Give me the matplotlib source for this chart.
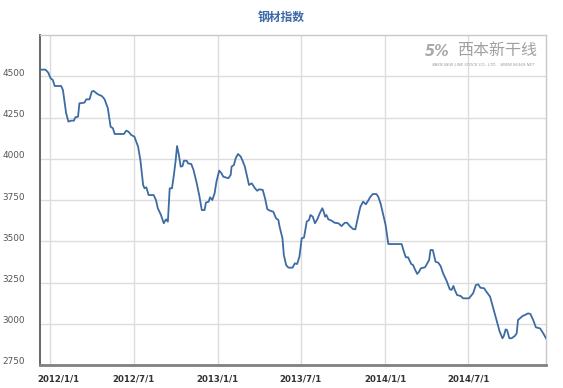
import matplotlib
matplotlib.use("Agg")
import matplotlib.pyplot as plt
import matplotlib.transforms as mtransforms
import datetime as dt

plt.rcParams['font.family'] = ['DejaVu Sans', 'Noto Sans CJK SC']

title = "钢材指数"

dates = [
    "2011-12-12", "2011-12-22", "2011-12-28", "2012-01-02", "2012-01-07", "2012-01-11",
    "2012-01-25", "2012-01-29", "2012-02-05", "2012-02-10", "2012-02-16", "2012-02-22",
    "2012-02-25", "2012-03-02", "2012-03-05", "2012-03-16", "2012-03-20", "2012-03-27",
    "2012-04-01", "2012-04-05", "2012-04-14", "2012-04-23", "2012-04-29", "2012-05-06",
    "2012-05-12", "2012-05-17", "2012-05-21", "2012-06-10", "2012-06-15", "2012-06-20",
    "2012-06-26", "2012-07-03", "2012-07-11", "2012-07-16", "2012-07-22", "2012-07-25",
    "2012-07-29", "2012-08-03", "2012-08-14", "2012-08-19", "2012-08-23", "2012-08-30",
    "2012-09-05", "2012-09-10", "2012-09-14", "2012-09-18", "2012-09-23", "2012-09-27",
    "2012-10-01", "2012-10-04", "2012-10-08", "2012-10-12", "2012-10-16", "2012-10-19",
    "2012-10-25", "2012-10-28", "2012-11-04", "2012-11-09", "2012-11-16", "2012-11-22",
    "2012-11-27", "2012-12-03", "2012-12-06", "2012-12-12", "2012-12-15", "2012-12-20",
    "2012-12-25", "2012-12-29", "2013-01-04", "2013-01-09", "2013-01-13", "2013-01-24",
    "2013-01-29", "2013-01-31", "2013-02-05", "2013-02-09", "2013-02-14", "2013-02-20",
    "2013-02-24", "2013-03-01", "2013-03-06", "2013-03-10", "2013-03-16", "2013-03-23",
    "2013-03-28", "2013-04-01", "2013-04-09", "2013-04-14", "2013-04-19", "2013-04-25",
    "2013-05-02", "2013-05-08", "2013-05-13", "2013-05-16", "2013-05-22", "2013-05-25",
    "2013-05-30", "2013-06-04", "2013-06-13", "2013-06-18", "2013-06-23", "2013-06-28",
    "2013-07-03", "2013-07-08", "2013-07-14", "2013-07-19", "2013-07-22", "2013-07-27",
    "2013-08-01", "2013-08-06", "2013-08-12", "2013-08-17", "2013-08-20", "2013-08-23",
    "2013-08-26", "2013-08-30", "2013-09-06", "2013-09-13", "2013-09-21", "2013-09-28",
    "2013-10-05", "2013-10-10", "2013-10-16", "2013-10-23", "2013-10-28", "2013-11-03",
    "2013-11-08", "2013-11-14", "2013-11-20", "2013-11-25", "2013-11-30", "2013-12-05",
    "2013-12-13", "2013-12-17", "2013-12-22", "2013-12-28", "2014-01-02", "2014-01-08",
    "2014-02-06", "2014-02-11", "2014-02-15", "2014-02-20", "2014-02-27", "2014-03-03",
    "2014-03-07", "2014-03-12", "2014-03-16", "2014-03-20", "2014-03-29", "2014-04-03",
    "2014-04-07", "2014-04-10", "2014-04-15", "2014-04-17", "2014-04-21", "2014-04-27",
    "2014-05-02", "2014-05-08", "2014-05-15", "2014-05-22", "2014-05-26", "2014-05-30",
    "2014-06-02", "2014-06-07", "2014-06-15", "2014-06-20", "2014-07-03", "2014-07-12",
    "2014-07-18", "2014-07-23", "2014-07-28", "2014-08-05", "2014-08-10", "2014-08-18",
    "2014-08-25", "2014-09-01", "2014-09-08", "2014-09-14", "2014-09-17", "2014-09-21",
    "2014-09-24", "2014-09-29", "2014-10-04", "2014-10-11", "2014-10-15", "2014-10-18",
    "2014-10-24", "2014-10-28", "2014-11-02", "2014-11-09", "2014-11-14", "2014-11-20",
    "2014-11-26", "2014-12-05", "2014-12-12", "2014-12-18",
]

values = [
    4540, 4540, 4522, 4488, 4477, 4441,
    4441, 4417, 4276, 4225, 4231, 4231,
    4251, 4255, 4336, 4340, 4360, 4360,
    4407, 4411, 4391, 4380, 4360, 4306,
    4194, 4185, 4150, 4150, 4170, 4164,
    4144, 4134, 4073, 3993, 3841, 3821,
    3827, 3780, 3780, 3750, 3700, 3659,
    3609, 3633, 3619, 3821, 3821, 3900,
    3990, 4077, 4023, 3952, 3956, 3988,
    3988, 3972, 3968, 3932, 3851, 3770,
    3689, 3689, 3734, 3740, 3766, 3750,
    3791, 3861, 3928, 3912, 3891, 3882,
    3902, 3952, 3962, 4003, 4029, 4013,
    3988, 3952, 3891, 3841, 3851, 3821,
    3806, 3815, 3811, 3760, 3694, 3685,
    3679, 3639, 3629, 3585, 3518, 3417,
    3356, 3340, 3340, 3366, 3362, 3406,
    3518, 3522, 3619, 3629, 3659, 3649,
    3609, 3633, 3673, 3700, 3679, 3649,
    3659, 3633, 3625, 3612, 3609, 3592,
    3612, 3612, 3592, 3574, 3572, 3649,
    3709, 3740, 3724, 3746, 3770, 3786,
    3786, 3770, 3730, 3659, 3599, 3483,
    3483, 3437, 3403, 3403, 3362, 3356,
    3330, 3302, 3315, 3336, 3342, 3366,
    3386, 3447, 3447, 3423, 3376, 3370,
    3350, 3302, 3261, 3209, 3205, 3229,
    3205, 3174, 3168, 3154, 3154, 3185,
    3235, 3239, 3218, 3215, 3194, 3164,
    3094, 3023, 2952, 2912, 2926, 2966,
    2962, 2912, 2912, 2926, 2942, 3023,
    3037, 3047, 3053, 3063, 3059, 3023,
    2978, 2972, 2942, 2912,
]

xtick_dates = ["2012-01-01", "2012-07-01", "2013-01-01", "2013-07-01", "2014-01-01", "2014-07-01"]
xtick_labels = ["2012/1/1", "2012/7/1", "2013/1/1", "2013/7/1", "2014/1/1", "2014/7/1"]
yticks = [2750, 3000, 3250, 3500, 3750, 4000, 4250, 4500]

W, H = 563, 388
fig = plt.figure(figsize=(W / 100, H / 100), dpi=100)
fig.patch.set_facecolor("white")
ax = fig.add_axes([40 / W, 1 - 365 / H, (546 - 40) / W, (365 - 35) / H])

x = [dt.datetime.strptime(d, "%Y-%m-%d") for d in dates]
ax.plot(x, values, color="#3d6ba3", lw=1.3, solid_joinstyle="round", zorder=3)

ax.set_xlim(dt.datetime(2011, 12, 10), dt.datetime(2014, 12, 18))
ax.set_ylim(2750, 4750)

ax.set_yticks(yticks)
ax.set_yticklabels([str(v) for v in yticks])
ax.set_xticks([dt.datetime.strptime(d, "%Y-%m-%d") for d in xtick_dates])
ax.set_xticklabels(xtick_labels)

ax.grid(True, color="#dcdcdc", lw=1.0, zorder=0)
ax.set_axisbelow(True)

for s in ["top", "right"]:
    ax.spines[s].set_color("#c8c8c8")
    ax.spines[s].set_linewidth(1.0)
ax.spines["left"].set_color("#666666")
ax.spines["left"].set_linewidth(1.4)
ax.spines["bottom"].set_color("#808080")
ax.spines["bottom"].set_linewidth(2.0)

ax.tick_params(axis="both", length=0)
ax.tick_params(axis="y", pad=11, labelsize=6.4, labelcolor="#555555")
ax.tick_params(axis="x", pad=7, labelsize=6.2, labelcolor="#333333")
for lab in ax.get_xticklabels():
    lab.set_fontweight("bold")
for lab in ax.get_yticklabels():
    lab.set_transform(lab.get_transform() + mtransforms.ScaledTranslation(0, 4 / 100, fig.dpi_scale_trans))
xl = ax.get_xticklabels()
xl[0].set_transform(xl[0].get_transform() + mtransforms.ScaledTranslation(8 / 100, 0, fig.dpi_scale_trans))

fig.text(281 / W, 1 - 17 / H, title, ha="center", va="center", fontsize=8.5,
         fontweight="bold", color="#3f6aa8", family=["Noto Sans CJK SC", "DejaVu Sans"])

# watermark
fig.text(437 / W, 1 - 52 / H, "5%", ha="center", va="center", fontsize=10.5, fontweight="bold",
         color="#a8a8a8", style="italic")
fig.text(497 / W, 1 - 51 / H, "西本新干线", ha="center", va="center", fontsize=11.5,
         color="#a0a0a0", style="italic", family=["Noto Sans CJK SC", "DejaVu Sans"])
fig.text(483 / W, 1 - 65 / H, "XIBEN NEW LINE STOCK CO., LTD.   WWW.96369.NET", ha="center",
         va="center", fontsize=2.8, color="#999999", style="italic")

fig.savefig("out.png", dpi=100, facecolor="white")
